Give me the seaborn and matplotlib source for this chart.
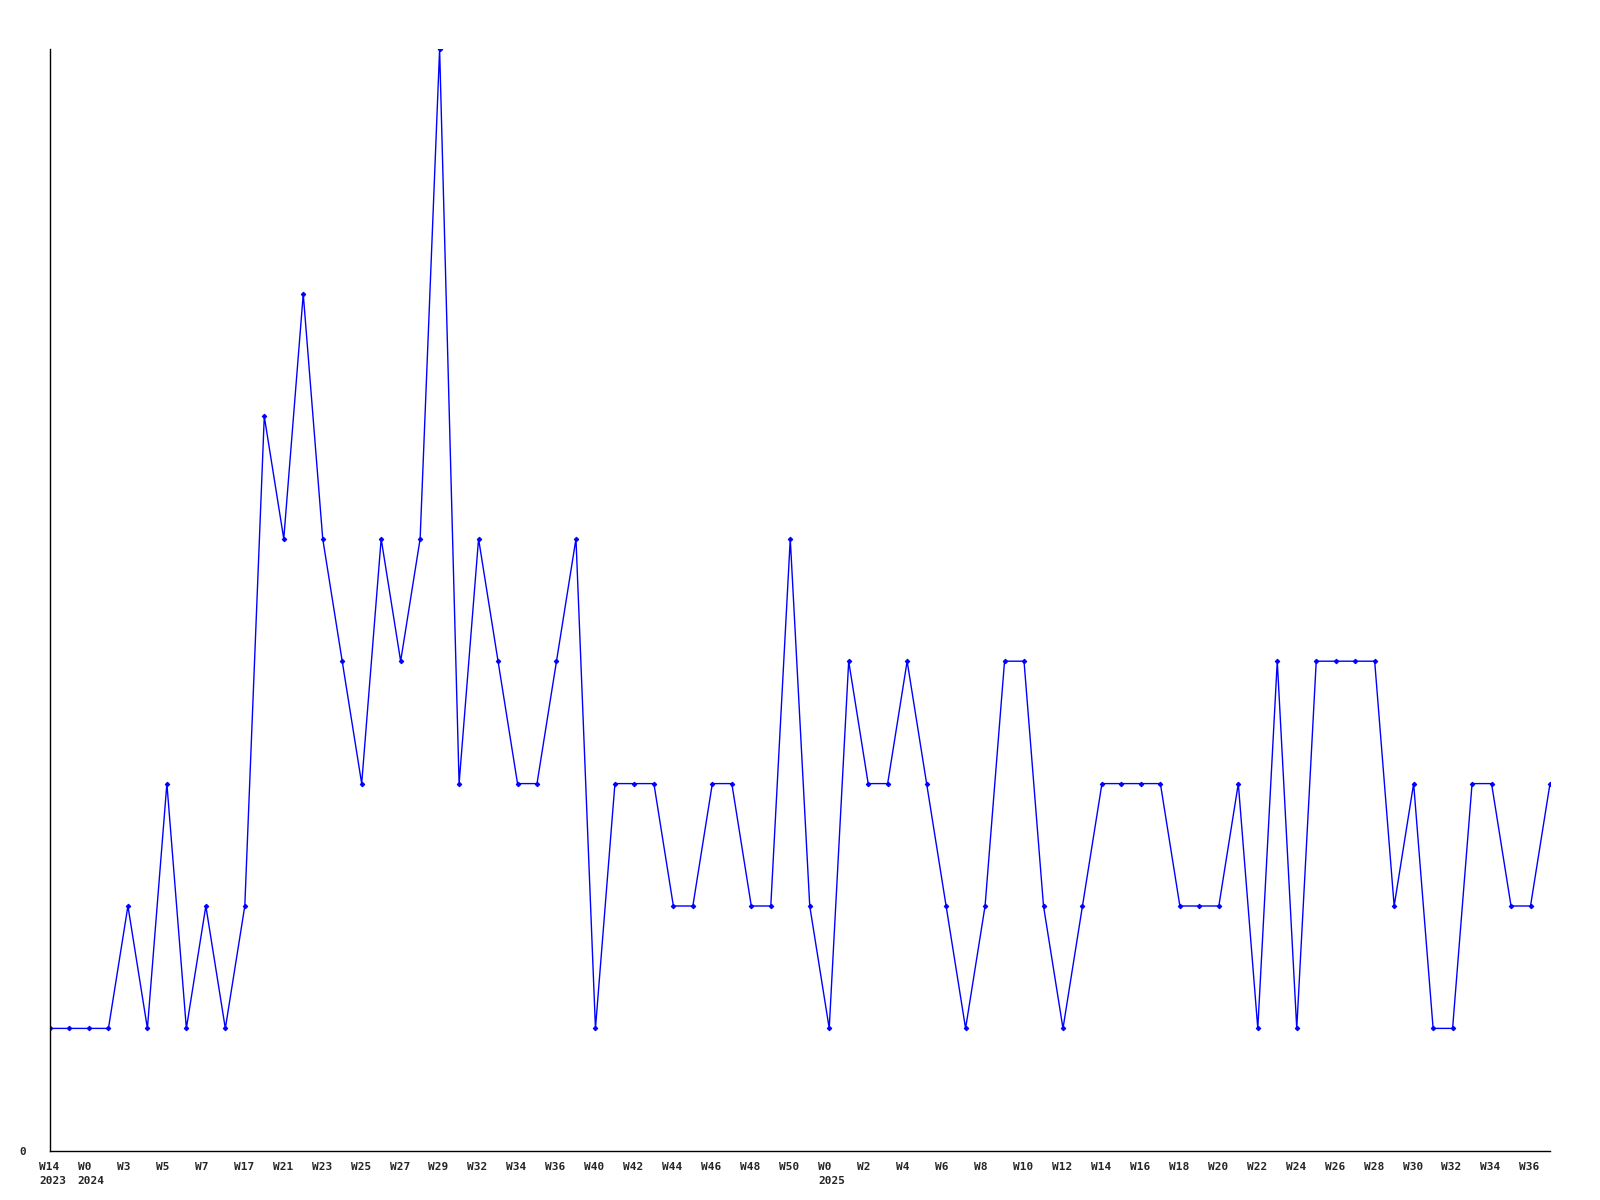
import numpy as np
import pandas as pd
import seaborn as sns
import matplotlib.pyplot as plt

# Data (one point per period, equally spaced)
values = [1, 1, 1, 1, 2, 1, 3, 1, 2, 1,
          2, 6, 5, 7, 5, 4, 3, 5, 4, 5,
          9, 3, 5, 4, 3, 3, 4, 5, 1, 3,
          3, 3, 2, 2, 3, 3, 2, 2, 5, 2,
          1, 4, 3, 3, 4, 3, 2, 1, 2, 4,
          4, 2, 1, 2, 3, 3, 3, 3, 2, 2,
          2, 3, 1, 4, 1, 4, 4, 4, 4, 2,
          3, 1, 1, 3, 3, 2, 2, 3]

# labels shown on every second point
tick_weeks = ["W14", "W0", "W3", "W5", "W7", "W17", "W21", "W23", "W25", "W27",
              "W29", "W32", "W34", "W36", "W40", "W42", "W44", "W46", "W48", "W50",
              "W0", "W2", "W4", "W6", "W8", "W10", "W12", "W14", "W16", "W18",
              "W20", "W22", "W24", "W26", "W28", "W30", "W32", "W34", "W36"]
tick_years = {0: "2023", 1: "2024", 20: "2025"}

df = pd.DataFrame({"idx": np.arange(len(values)), "count": values})

sns.set_theme(style="white")
plt.rcParams['font.family'] = ['DejaVu Sans Mono']
plt.rcParams['font.weight'] = 'bold'

fig = plt.figure(figsize=(16, 12), dpi=100)
ax = fig.add_axes([0.03125, 0.041, 0.9375, 0.918])

sns.lineplot(data=df, x="idx", y="count", ax=ax, color="blue", linewidth=1,
             marker="D", markersize=2.3, markeredgecolor="blue")

ax.set_xlim(0, len(values) - 1)
ax.set_ylim(0, max(values))

# x labels: left aligned, starting a bit left of their point
ticks = np.arange(0, len(values), 2)[:len(tick_weeks)]
ax.set_xticks(ticks)
ax.set_xticklabels([])
for k, (t, w) in enumerate(zip(ticks, tick_weeks)):
    txt = w + "\n" + tick_years[k] if k in tick_years else w
    ax.annotate(txt, xy=(t, 0), xycoords=("data", "axes fraction"),
                xytext=(-8, -8), textcoords="offset points",
                ha="left", va="top", fontsize=8, fontweight="bold",
                linespacing=1.5, annotation_clip=False)

ax.set_yticks([0])
ax.set_yticklabels(["0"], fontsize=8, fontweight="bold")
ax.tick_params(axis="x", length=0)
ax.tick_params(axis="y", length=0, pad=17)

ax.set_xlabel("")
ax.set_ylabel("")
for s in ["top", "right"]:
    ax.spines[s].set_visible(False)
for s in ["left", "bottom"]:
    ax.spines[s].set_color("black")
    ax.spines[s].set_linewidth(1)

fig.savefig("out.png", dpi=100)
